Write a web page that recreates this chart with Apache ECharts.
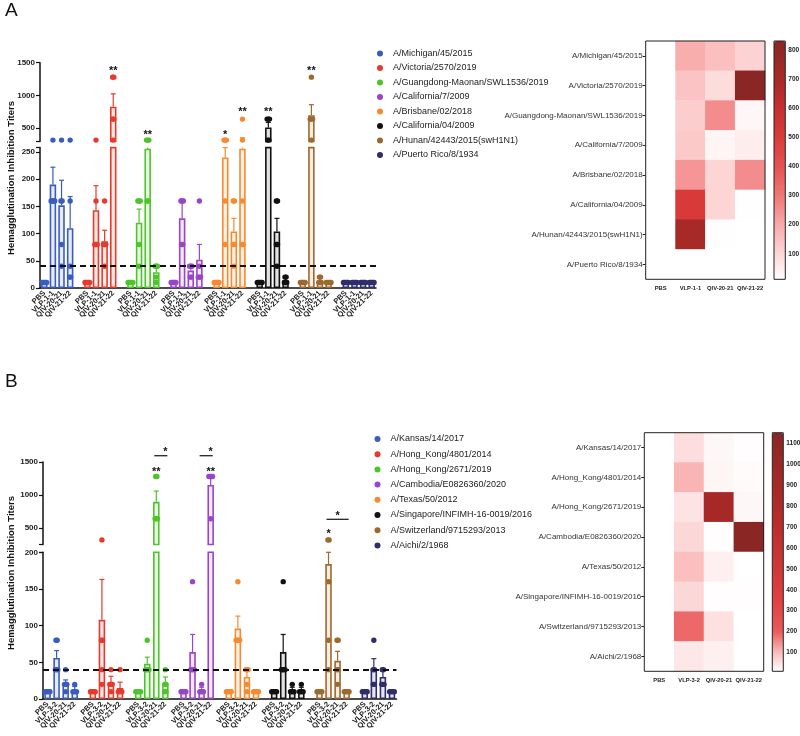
<!DOCTYPE html>
<html lang="en">
<head>
<meta charset="UTF-8">
<title>HAI titers</title>
<style>
  html, body { margin: 0; padding: 0; background: #fff; }
  #main { width: 800px; height: 736px; }
</style>
</head>
<body>
<div id="main"></div>
<script src="https://cdn.jsdelivr.net/npm/echarts@6/dist/echarts.min.js"></script>
<script>
// ---- data ----
var groupsA = ['PBS', 'VLP-1-1', 'QIV-20-21', 'QIV-21-22'];
var groupsB = ['PBS', 'VLP-3-2', 'QIV-20-21', 'QIV-21-22'];

var strainsA = ['A/Michigan/45/2015', 'A/Victoria/2570/2019', 'A/Guangdong-Maonan/SWL1536/2019',
  'A/California/7/2009', 'A/Brisbane/02/2018', 'A/California/04/2009',
  'A/Hunan/42443/2015(swH1N1)', 'A/Puerto Rico/8/1934'];
var strainsB = ['A/Kansas/14/2017', 'A/Hong_Kong/4801/2014', 'A/Hong_Kong/2671/2019',
  'A/Cambodia/E0826360/2020', 'A/Texas/50/2012', 'A/Singapore/INFIMH-16-0019/2016',
  'A/Switzerland/9715293/2013', 'A/Aichi/2/1968'];

var strainColors = ['#3a5cc0', '#e8392d', '#4ec42b', '#9a44c9', '#f78a2f', '#111111', '#9c6a2d', '#2e2d6d'];

// mean titers (bar heights, also the heatmap cells)
var meansA = [
  [10, 190, 152, 110],
  [10, 143, 86, 830],
  [10, 120, 256, 29],
  [10, 128, 32, 52],
  [10, 240, 104, 256],
  [10, 512, 104, 14],
  [10, 700, 14, 10],
  [10, 10, 10, 10]
];
// top of the error bars (mean + SEM)
var errTopA = [
  [10, 222, 198, 168],
  [10, 188, 106, 1025],
  [10, 145, 295, 40],
  [10, 163, 40, 80],
  [10, 258, 128, 355],
  [10, 590, 128, 18],
  [10, 860, 18, 10],
  [10, 10, 10, 10]
];
// individual animals
var dotsA = [
  [[10, 10, 10, 10, 10], [160, 160, 160, 160, 320], [40, 80, 160, 160, 320], [20, 20, 40, 160, 320]],
  [[10, 10, 10, 10, 10], [80, 80, 80, 160, 320], [40, 80, 80, 80, 160], [320, 640, 640, 1280, 1280]],
  [[10, 10, 10, 10, 10], [40, 80, 160, 160, 160], [160, 160, 320, 320, 320], [10, 20, 40, 40, 40]],
  [[10, 10, 10, 10, 10], [80, 80, 160, 160, 160], [20, 20, 40, 40, 40], [20, 20, 20, 40, 160]],
  [[10, 10, 10, 10, 10], [80, 160, 320, 320, 320], [40, 80, 80, 160, 160], [80, 80, 160, 320, 640]],
  [[10, 10, 10, 10, 10], [320, 320, 640, 640, 640], [40, 80, 80, 160, 160], [10, 10, 10, 20, 20]],
  [[10, 10, 10, 10, 10], [320, 640, 640, 640, 1280], [10, 10, 10, 20, 20], [10, 10, 10, 10, 10]],
  [[10, 10, 10, 10, 10], [10, 10, 10, 10, 10], [10, 10, 10, 10, 10], [10, 10, 10, 10, 10]]
];
// [strain, group, value, number of stars]
var starsA = [[1, 3, 1420, 2], [2, 2, 440, 2], [4, 1, 440, 1], [4, 3, 790, 2], [5, 1, 790, 2], [6, 1, 1420, 2]];
var bracketsA = [];

var meansB = [
  [10, 56, 21, 12],
  [10, 108, 23, 15],
  [10, 48, 896, 21],
  [10, 64, 12, 1152],
  [10, 96, 30, 10],
  [10, 64, 12, 12],
  [10, 184, 52, 10],
  [10, 42, 30, 10]
];
var errTopB = [
  [10, 66, 26, 17],
  [10, 163, 31, 23],
  [10, 57, 1060, 30],
  [10, 88, 16, 1268],
  [10, 113, 40, 10],
  [10, 88, 16, 16],
  [10, 200, 65, 10],
  [10, 55, 40, 10]
];
var dotsB = [
  [[10, 10, 10, 10, 10], [40, 40, 40, 80, 80], [10, 20, 20, 20, 40], [10, 10, 10, 10, 20]],
  [[10, 10, 10, 10, 10], [20, 40, 80, 80, 320], [10, 20, 20, 20, 40], [10, 10, 10, 10, 40]],
  [[10, 10, 10, 10, 10], [40, 40, 40, 40, 80], [640, 640, 640, 1280, 1280], [10, 10, 20, 20, 40]],
  [[10, 10, 10, 10, 10], [40, 40, 40, 40, 160], [10, 10, 10, 10, 20], [640, 1280, 1280, 1280, 1280]],
  [[10, 10, 10, 10, 10], [80, 80, 80, 80, 160], [10, 20, 40, 40, 40], [10, 10, 10, 10, 10]],
  [[10, 10, 10, 10, 10], [40, 40, 40, 40, 160], [10, 10, 10, 10, 20], [10, 10, 10, 10, 20]],
  [[10, 10, 10, 10, 10], [40, 80, 160, 320, 320], [20, 40, 40, 80, 80], [10, 10, 10, 10, 10]],
  [[10, 10, 10, 10, 10], [20, 20, 40, 40, 80], [20, 20, 20, 40, 40], [10, 10, 10, 10, 10]]
];
var starsB = [[2, 2, 1400, 2], [3, 3, 1400, 2], [6, 1, 460, 1]];
// [strain, from group, to group, line value, star value]
var bracketsB = [[2, 2, 3, 1595, 1700], [3, 2, 3, 1595, 1700], [6, 1, 3, 632, 732]];

var threshold = 40;
var yTitle = 'Hemagglutination Inhibition Titers';

// heatmap colour scales
var heatTicksA = [100, 200, 300, 400, 500, 600, 700, 800];
var heatTicksB = [100, 200, 300, 400, 500, 600, 700, 800, 900, 1000, 1100];
var colorStopsA = [[12, '#ffffff'], [100, '#fdd6d6'], [200, '#f9aaaa'], [300, '#f07676'], [400, '#e65252'],
  [500, '#da3b3b'], [600, '#c63030'], [700, '#a82a28'], [832, '#8a2724']];
var colorStopsB = [[10, '#ffffff'], [100, '#fbbcbc'], [200, '#ea5a5a'], [300, '#e44848'], [400, '#dc3d3d'],
  [600, '#c83232'], [800, '#b02a28'], [1151, '#8a2724']];

// ---- chart ----
var FONT = "'Liberation Sans', Arial, sans-serif";
var myChart = echarts.init(document.getElementById('main'));

var option = {
  animation: false,
  textStyle: { fontFamily: FONT },
  grid: [], xAxis: [], yAxis: [], series: [], legend: [], visualMap: [], graphic: []
};

function plain(v) { return String(v); }

function addGrid(grid, xAxis, yAxis) {
  var i = option.grid.length;
  grid.outerBoundsMode = 'none';
  grid.containLabel = false;
  option.grid.push(grid);
  xAxis.gridIndex = i;
  yAxis.gridIndex = i;
  option.xAxis.push(xAxis);
  option.yAxis.push(yAxis);
  return i;
}

function ramp(stops, n) {
  var min = stops[0][0], max = stops[stops.length - 1][0], out = [];
  for (var i = 0; i < n; i++) {
    var v = min + (max - min) * i / (n - 1);
    var k = 0;
    while (k < stops.length - 2 && v > stops[k + 1][0]) k++;
    var t = (v - stops[k][0]) / (stops[k + 1][0] - stops[k][0]);
    out.push(echarts.color.lerp(Math.max(0, Math.min(1, t)), [stops[k][1], stops[k + 1][1]]));
  }
  return out;
}

var axisColor = '#111';

function errRender(color, lo, hi) {
  return function (params, api) {
    var x = api.value(0), mean = api.value(1), top = api.value(2);
    if (!(top > mean)) return;
    var b = Math.max(mean, lo), t = Math.min(top, hi);
    if (t <= b) return;
    var p1 = api.coord([x, b]), p2 = api.coord([x, t]);
    var children = [{
      type: 'line', shape: { x1: p1[0], y1: p1[1], x2: p2[0], y2: p2[1] },
      style: { stroke: color, lineWidth: 1.2 }
    }];
    if (top <= hi) {
      children.push({
        type: 'line', shape: { x1: p2[0] - 2.5, y1: p2[1], x2: p2[0] + 2.5, y2: p2[1] },
        style: { stroke: color, lineWidth: 1.2 }
      });
    }
    return { type: 'group', children: children };
  };
}

function dotRender(color) {
  return function (params, api) {
    var p = api.coord([api.value(0), api.value(1)]);
    return {
      type: 'circle',
      shape: { cx: p[0] + api.value(2) * 1.2, cy: p[1], r: 2.7 },
      style: { fill: color }
    };
  };
}

function barPanel(p) {
  var slots = [];
  p.strains.forEach(function (s, g) {
    p.groups.forEach(function (name, b) { slots.push(name + '|' + g + '-' + b); });
    if (g < p.strains.length - 1) slots.push('|gap' + g);
  });
  function slotOf(g, b) { return g * 5 + b; }

  var yLine = { show: true, lineStyle: { color: axisColor, width: 1.5 } };
  var yLabel = { fontSize: 8, fontWeight: 'bold', color: '#222', margin: 5, formatter: plain };

  var lo = addGrid(
    { left: p.left, width: p.width, top: p.lowTop, height: p.lowHeight },
    {
      type: 'category', data: slots,
      axisLine: { lineStyle: { color: axisColor, width: 1.5 } },
      axisTick: {
        alignWithLabel: true, length: 3,
        interval: function (i, v) { return v.charAt(0) !== '|'; },
        lineStyle: { color: axisColor, width: 1 }
      },
      axisLabel: {
        interval: 0, rotate: 45, fontSize: 7.5, fontWeight: 'bold', color: '#222', margin: 4,
        formatter: function (v) { return v.split('|')[0]; }
      }
    },
    {
      type: 'value', min: 0, max: p.lowMax,
      axisLine: yLine,
      axisTick: { show: true, length: 4, customValues: p.lowTicks.concat([p.lowMax]), lineStyle: { color: axisColor, width: 1.2 } },
      axisLabel: Object.assign({ customValues: p.lowTicks }, yLabel),
      splitLine: { show: false }
    }
  );
  var up = addGrid(
    { left: p.left, width: p.width, top: p.upTop, height: p.upHeight },
    { type: 'category', data: slots, show: false },
    {
      type: 'value', min: p.upMin, max: p.upMax,
      axisLine: yLine,
      axisTick: { show: true, length: 4, customValues: [p.upMin].concat(p.upTicks), lineStyle: { color: axisColor, width: 1.2 } },
      axisLabel: Object.assign({ customValues: p.upTicks }, yLabel),
      splitLine: { show: false }
    }
  );

  p.strains.forEach(function (s, g) {
    var c = strainColors[g];
    var barData = slots.map(function () { return '-'; });
    var errData = [], loDots = [], upDots = [];
    p.groups.forEach(function (_, b) {
      var k = slotOf(g, b);
      barData[k] = p.means[g][b];
      errData.push([k, p.means[g][b], p.errs[g][b]]);
      var count = {};
      p.dots[g][b].forEach(function (v) { count[v] = (count[v] || 0) + 1; });
      Object.keys(count).forEach(function (key) {
        var v = +key, n = count[key];
        for (var j = 0; j < n; j++) {
          var item = [k, v, j - (n - 1) / 2];
          if (v <= p.lowMax) loDots.push(item);
          if (v >= p.upMin) upDots.push(item);
        }
      });
    });
    [lo, up].forEach(function (gi) {
      var isLo = gi === lo;
      var bar = {
        type: 'bar', name: s, xAxisIndex: gi, yAxisIndex: gi, data: barData,
        barWidth: 6.5, barGap: '-100%', clip: true, silent: true,
        itemStyle: { color: echarts.color.modifyAlpha(c, 0.12), borderColor: c, borderWidth: 1.6 }
      };
      if (isLo && g === 0) {
        bar.markLine = {
          silent: true, symbol: ['none', 'none'], label: { show: false },
          lineStyle: { color: '#111', type: [6, 4], width: 2 },
          data: [{ yAxis: threshold }]
        };
      }
      option.series.push(bar);
      option.series.push({
        type: 'custom', name: s, xAxisIndex: gi, yAxisIndex: gi, data: errData, silent: true, z: 3,
        renderItem: isLo ? errRender(c, 0, p.lowMax) : errRender(c, p.upMin, p.upMax)
      });
      option.series.push({
        type: 'custom', name: s, xAxisIndex: gi, yAxisIndex: gi, data: isLo ? loDots : upDots,
        silent: true, z: 4, renderItem: dotRender(c)
      });
    });
  });

  option.series.push({
    type: 'custom', xAxisIndex: up, yAxisIndex: up, silent: true, z: 5,
    data: p.stars.map(function (st) { return [slotOf(st[0], st[1]), st[2], st[3]]; }),
    renderItem: function (params, api) {
      var pt = api.coord([api.value(0), api.value(1)]);
      return {
        type: 'text', x: pt[0], y: pt[1] + 3,
        style: {
          text: new Array(api.value(2) + 1).join('*'), fontSize: 11, fontWeight: 'bold',
          fontFamily: FONT, fill: '#111', align: 'center', verticalAlign: 'middle'
        }
      };
    }
  });
  if (p.brackets.length) {
    option.series.push({
      type: 'custom', xAxisIndex: up, yAxisIndex: up, silent: true, z: 5,
      encode: { x: [0, 1], y: [2, 3] },
      data: p.brackets.map(function (br) { return [slotOf(br[0], br[1]), slotOf(br[0], br[2]), br[3], br[4]]; }),
      renderItem: function (params, api) {
        var a = api.coord([api.value(0), api.value(2)]);
        var b = api.coord([api.value(1), api.value(2)]);
        var m = api.coord([(api.value(0) + api.value(1)) / 2, api.value(3)]);
        return {
          type: 'group', children: [
            { type: 'line', shape: { x1: a[0] - 2, y1: a[1], x2: b[0] + 2, y2: b[1] }, style: { stroke: '#111', lineWidth: 1.2 } },
            {
              type: 'text', x: m[0], y: m[1] + 3,
              style: { text: '*', fontSize: 11, fontWeight: 'bold', fontFamily: FONT, fill: '#111', align: 'center', verticalAlign: 'middle' }
            }
          ]
        };
      }
    });
  }

  option.legend.push({
    orient: 'vertical', left: p.legendLeft, top: p.legendTop, padding: 0,
    itemWidth: 6, itemHeight: 6, itemGap: p.legendGap, icon: 'circle', selectedMode: false,
    textStyle: { fontSize: 9, color: '#222', lineHeight: 11, padding: [0, 0, 0, 5] },
    data: p.strains.map(function (s, g) {
      return { name: s, itemStyle: { color: strainColors[g], borderWidth: 0 } };
    })
  });

  option.graphic.push({
    type: 'text', x: p.titleX, y: p.titleY, rotation: Math.PI / 2,
    style: { text: yTitle, fontSize: 9.5, fontWeight: 'bold', fontFamily: FONT, fill: '#111', align: 'center', verticalAlign: 'middle' }
  });
}

function heatPanel(p) {
  var hi = addGrid(
    { left: p.left, top: p.top, width: p.width, height: p.height, show: true, z: 10,
      borderColor: '#222', borderWidth: 1, backgroundColor: 'rgba(0,0,0,0)' },
    {
      type: 'category', data: p.groups, axisLine: { show: false }, axisTick: { show: false },
      axisLabel: { interval: 0, fontSize: 5.8, fontWeight: 'bold', color: '#222', margin: 6 },
      splitLine: { show: false }, splitArea: { show: false }
    },
    {
      type: 'category', data: p.strains, inverse: true, axisLine: { show: false },
      axisTick: { show: true, length: 3, alignWithLabel: true, lineStyle: { color: '#222' } },
      axisLabel: { interval: 0, fontSize: 8, color: '#333', margin: 3 },
      splitLine: { show: false }, splitArea: { show: false }
    }
  );
  var data = [];
  p.means.forEach(function (row, r) {
    row.forEach(function (v, c) { data.push([c, r, v]); });
  });
  var si = option.series.length;
  option.series.push({ type: 'heatmap', xAxisIndex: hi, yAxisIndex: hi, data: data, silent: true });
  var cmin = p.stops[0][0], cmax = p.stops[p.stops.length - 1][0];
  option.visualMap.push({
    type: 'continuous', seriesIndex: si, min: cmin, max: cmax, dimension: 2,
    left: p.barLeft, top: p.top, itemWidth: p.barWidth, itemHeight: p.height, padding: 0,
    calculable: false, hoverLink: false, realtime: false,
    inRange: { color: ramp(p.stops, 80) }
  });
  addGrid(
    { left: p.barLeft, top: p.top, width: p.barWidth, height: p.height, show: true, z: 10,
      borderColor: '#222', borderWidth: 1, backgroundColor: 'rgba(0,0,0,0)' },
    { type: 'value', show: false, min: 0, max: 1 },
    {
      type: 'value', min: cmin, max: cmax, position: 'right',
      axisLine: { show: false },
      axisTick: { show: true, length: 2, customValues: p.ticks, lineStyle: { color: '#222' } },
      axisLabel: { customValues: p.ticks, fontSize: 6.5, fontWeight: 'bold', color: '#222', margin: 3, formatter: plain },
      splitLine: { show: false }
    }
  );
}

barPanel({
  strains: strainsA, groups: groupsA, means: meansA, errs: errTopA, dots: dotsA,
  stars: starsA, brackets: bracketsA,
  left: 40, width: 336, lowTop: 147.6, lowHeight: 140.4, lowMax: 258, lowTicks: [0, 50, 100, 150, 200, 250],
  upTop: 62.7, upHeight: 78.7, upMin: 300, upMax: 1500, upTicks: [500, 1000, 1500],
  legendLeft: 377, legendTop: 48, legendGap: 3.5, titleX: 11, titleY: 178
});
barPanel({
  strains: strainsB, groups: groupsB, means: meansB, errs: errTopB, dots: dotsB,
  stars: starsB, brackets: bracketsB,
  left: 43, width: 353.5, lowTop: 552.3, lowHeight: 146.7, lowMax: 200, lowTicks: [0, 50, 100, 150, 200],
  upTop: 462, upHeight: 82.5, upMin: 250, upMax: 1500, upTicks: [500, 1000, 1500],
  legendLeft: 374.5, legendTop: 433.5, legendGap: 4.2, titleX: 11, titleY: 573
});
heatPanel({
  strains: strainsA, groups: groupsA, means: meansA, stops: colorStopsA, ticks: heatTicksA,
  left: 645.7, top: 41, width: 119.3, height: 238.3, barLeft: 774, barWidth: 11.3
});
heatPanel({
  strains: strainsB, groups: groupsB, means: meansB, stops: colorStopsB, ticks: heatTicksB,
  left: 644.3, top: 432.7, width: 119.4, height: 238.6, barLeft: 772.3, barWidth: 11
});

option.graphic.push(
  { type: 'text', x: 5, y: 1, style: { text: 'A', fontSize: 19, fontFamily: FONT, fill: '#111' } },
  { type: 'text', x: 5, y: 372, style: { text: 'B', fontSize: 19, fontFamily: FONT, fill: '#111' } }
);

myChart.setOption(option);
</script>
</body>
</html>
